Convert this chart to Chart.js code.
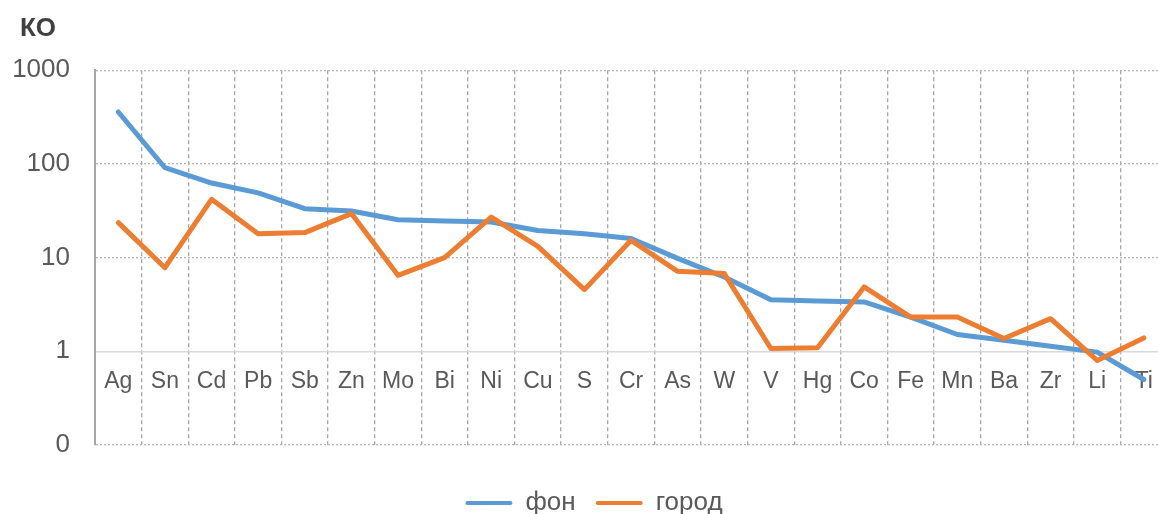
<!DOCTYPE html>
<html>
<head>
<meta charset="utf-8">
<script src="https://cdn.jsdelivr.net/npm/chart.js@4"></script>
<style>
  html, body { margin: 0; padding: 0; background: #fff; overflow: hidden; }
  #wrap { position: absolute; left: 0; top: 0; width: 1170px; height: 526px; }
</style>
</head>
<body>
<div id="wrap"><canvas id="c" width="1170" height="526"></canvas></div>
<script>
const categories = ['Ag','Sn','Cd','Pb','Sb','Zn','Mo','Bi','Ni','Cu','S','Cr','As','W','V','Hg','Co','Fe','Mn','Ba','Zr','Li','Ti'];
const fonValues = [358, 91, 62.5, 49, 33.3, 31.4, 25.4, 24.6, 24.0, 19.5, 18.0, 16.0, 9.8, 6.2, 3.56, 3.44, 3.36, 2.32, 1.51, 1.31, 1.13, 0.98, 0.50];
const gorodValues = [23.6, 7.8, 41.9, 18.0, 18.5, 29.5, 6.47, 10.0, 27.1, 13.2, 4.55, 15.3, 7.14, 6.75, 1.07, 1.09, 4.86, 2.32, 2.32, 1.37, 2.23, 0.80, 1.39];
const yTickValues = [0.1, 1, 10, 100, 1000];
const seriesNames = ['фон', 'город'];
const axisTitle = 'КО';

const FONT = "'Liberation Sans', Arial, sans-serif";
const TXT = '#595959';

new Chart(document.getElementById('c'), {
  type: 'line',
  data: {
    labels: categories,
    datasets: [
      { label: seriesNames[0], data: fonValues, borderColor: '#5B9BD5', backgroundColor: '#5B9BD5',
        borderWidth: 5, pointRadius: 0, tension: 0, borderJoinStyle: 'round', borderCapStyle: 'round', order: 1 },
      { label: seriesNames[1], data: gorodValues, borderColor: '#ED7D31', backgroundColor: '#ED7D31',
        borderWidth: 5, pointRadius: 0, tension: 0, borderJoinStyle: 'round', borderCapStyle: 'round', order: 0 }
    ]
  },
  options: {
    responsive: false,
    animation: false,
    layout: { padding: { left: 20, right: 2, top: 0, bottom: 0 } },
    plugins: {
      tooltip: { enabled: false },
      title: {
        display: true, text: axisTitle, align: 'start', color: '#404040',
        font: { family: FONT, size: 26, weight: 'bold', lineHeight: 1.2 },
        padding: { top: 13, bottom: 26 }
      },
      legend: {
        position: 'bottom',
        title: { display: true, text: '', font: { size: 11, lineHeight: 1 }, padding: { top: 14, bottom: 0 } },
        labels: {
          color: TXT, font: { family: FONT, size: 26 }, boxWidth: 47, boxHeight: 4, padding: 20,
          sort: (a, b) => a.datasetIndex - b.datasetIndex,
          generateLabels: (chart) => Chart.defaults.plugins.legend.labels.generateLabels(chart).map(l => Object.assign(l, { lineWidth: 0, borderRadius: 2 }))
        }
      }
    },
    scales: {
      x: {
        type: 'category',
        offset: true,
        position: { y: 1 },
        grid: { display: true, offset: true, drawTicks: false, color: '#a6a6a6', lineWidth: 1.3 },
        border: { display: true, color: '#d9d9d9', width: 1.5, dash: [4, 3] },
        ticks: { color: TXT, font: { family: FONT, size: 23 }, padding: 17, maxRotation: 0, autoSkip: false }
      },
      y: {
        type: 'logarithmic',
        min: 0.1,
        max: 1000,
        afterBuildTicks: (scale) => { scale.ticks = yTickValues.map(v => ({ value: v, major: false })); },
        afterFit: (scale) => { scale.width = 75; },
        grid: {
          drawTicks: false, lineWidth: 1.3,
          color: (ctx) => (ctx.tick && ctx.tick.value === 1) ? 'rgba(0,0,0,0)' : '#b5b5b5'
        },
        border: { display: true, color: '#a6a6a6', width: 2, dash: [2, 2] },
        ticks: {
          color: TXT, font: { family: FONT, size: 26 }, padding: 25,
          callback: (v) => (v < 1 ? '0' : String(v))
        }
      }
    }
  },
  plugins: [{
    id: 'unclipYLabels',
    afterLayout: (chart) => { chart.scales.y.left = 0; }
  }]
});
</script>
</body>
</html>
